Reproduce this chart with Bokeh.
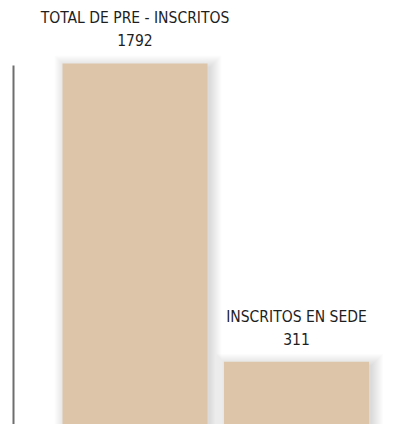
from bokeh.plotting import figure
from bokeh.models import Range1d, ColumnDataSource, FixedTicker
from bokeh.transform import dodge
from bokeh.core.properties import value
from bokeh.embed import file_html
from bokeh.resources import INLINE

categories = ["TOTAL DE PRE - INSCRITOS", "INSCRITOS EN SEDE"]
values = [1792, 311]

labels = [f"{c}\n{v}" for c, v in zip(categories, values)]
pos = list(range(len(categories)))

src = ColumnDataSource(dict(x=pos, top=values, label=labels))

PX = 161.5      # pixels per category unit
PY = 0.20145    # pixels per value unit
FW = 394
FH = 424
p = figure(width=407, height=424, output_backend="svg", toolbar_location=None,
           x_range=Range1d(-121.5 / PX, (FW - 121.5) / PX),
           y_range=Range1d(0, FH / PY), min_border=0, min_border_left=13)
p.outline_line_color = None
p.grid.visible = False
p.xaxis.visible = False
p.yaxis.ticker = FixedTicker(ticks=[])
p.yaxis.bounds = (0, 1782)
p.yaxis.axis_line_color = "#6e6e6e"
p.yaxis.axis_line_width = 2
p.yaxis.major_tick_line_color = None
p.yaxis.minor_tick_line_color = None
p.yaxis.major_tick_out = 0
p.yaxis.major_label_standoff = 0

bw = 145 / PX
# soft shadow layers
for k in range(12):
    p.vbar(x=dodge("x", 3 / PX, range=p.x_range),
           top=dodge("top", (k - 3) / PY), bottom=0,
           width=bw + (2 * k) / PX, source=src,
           fill_color="#000000", fill_alpha=0.011, line_color=None)
p.vbar(x="x", top="top", bottom=0, width=bw, source=src,
       fill_color="#dcc5a8", line_color=None)

p.text(x="x", y="top", text="label", source=src, text_align="center",
       text_baseline="bottom", y_offset=-13, text_font=value("DejaVu Sans Condensed"),
       text_font_size="15.5px", text_color="#1e1e1e", text_line_height=1.28)

open("out.html", "w").write(file_html(p, INLINE))
